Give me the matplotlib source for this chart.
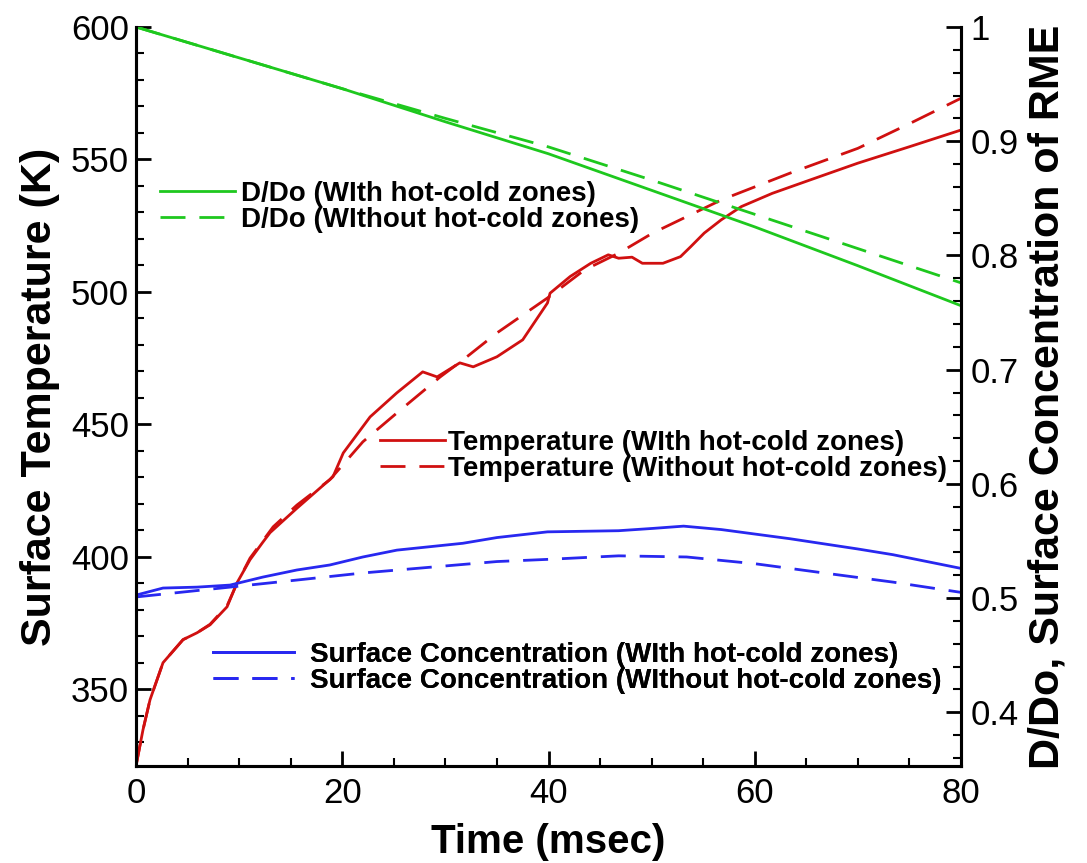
import matplotlib
matplotlib.use("Agg")
import matplotlib.pyplot as plt
from matplotlib.ticker import MultipleLocator, FuncFormatter

plt.rcParams['font.family'] = ['Liberation Sans', 'DejaVu Sans']

# temperature, with hot-cold zones (left axis, K)
t_temp_with = [0, 0.68, 1.36, 2.62, 4.56, 5.92, 7.18, 8.83, 9.8, 11.06, 12.3, 13.0,
               15.6, 19.1, 20.1, 22.7, 25.3, 27.8, 29.2, 31.4, 32.7, 35.0, 37.5,
               39.9, 40.15, 42.1, 44.1, 45.8, 46.8, 48.1, 49.1, 51.1, 52.8, 53.8,
               55.1, 56.75, 58.7, 61.7, 65.4, 70.0, 75.0, 80.0]
temp_with = [321, 334.7, 346.0, 360.0, 368.7, 371.3, 374.3, 381.1, 390.2, 398.9, 405.5, 409.1,
             418.3, 430.2, 439.2, 452.8, 461.9, 469.8, 467.9, 473.2, 471.7, 475.5, 481.9,
             495.8, 499.5, 505.8, 510.8, 514.0, 512.7, 513.1, 510.8, 510.8, 513.3, 517.1,
             522.2, 527.2, 532.2, 537.2, 542.3, 548.6, 554.8, 561.1]

# temperature, without hot-cold zones
t_temp_without = [0, 0.68, 1.36, 2.62, 4.56, 5.92, 7.18, 8.83, 9.8, 11.06, 13.3, 15.6,
                  18.8, 22.0, 25.3, 29.5, 31.7, 35.0, 39.9, 43.5, 46.8, 50.1, 53.4,
                  56.75, 63.4, 70.0, 75.0, 80.0]
temp_without = [321, 334.7, 346.0, 360.0, 368.7, 371.3, 374.5, 381.5, 390.0, 399.5, 411.3, 419.5,
                429.1, 443.4, 454.3, 467.9, 474.3, 484.5, 497.7, 508.3, 514.6, 522.2, 528.4,
                534.7, 544.8, 554.2, 563.5, 573.1]

# D/Do (right axis)
t_d = [0, 10, 20, 30, 40, 50, 60, 70, 80]
d_with = [1.0, 0.973, 0.946, 0.917, 0.889, 0.857, 0.825, 0.791, 0.756]
d_without = [1.0, 0.973, 0.946, 0.920, 0.895, 0.866, 0.836, 0.806, 0.776]

# surface concentration of RME (right axis)
t_conc_with = [0, 2.62, 5.92, 9.12, 12.3, 15.6, 18.8, 22.0, 25.3, 28.5, 31.7, 35.0,
               39.9, 46.8, 50.1, 53.1, 56.75, 63.4, 70.0, 73.4, 80.0]
conc_with = [0.5026, 0.5088, 0.5096, 0.5114, 0.5184, 0.5246, 0.529, 0.536, 0.542, 0.545,
             0.548, 0.553, 0.558, 0.559, 0.561, 0.563, 0.560, 0.552, 0.543, 0.538, 0.526]
t_conc_without = [0, 9.1, 15.6, 22.0, 28.5, 35.0, 40.15, 46.8, 53.4, 60.1, 66.7, 73.4, 80.0]
conc_without = [0.501, 0.5096, 0.5158, 0.522, 0.527, 0.532, 0.534, 0.537, 0.536, 0.530,
                0.522, 0.514, 0.505]

green = '#1ec81e'
red = '#d01010'
blue = '#2828f0'
dash = (9, 5)

W, H = 1087, 863
fig = plt.figure(figsize=(W / 100, H / 100), dpi=100)
ax = fig.add_axes([136 / W, 1 - 766 / H, (961 - 136) / W, (766 - 27) / H])
ax2 = ax.twinx()

r1, = ax.plot(t_temp_with, temp_with, color=red, lw=2)
r2, = ax.plot(t_temp_without, temp_without, color=red, lw=2, dashes=dash)
g1, = ax2.plot(t_d, d_with, color=green, lw=2)
g2, = ax2.plot(t_d, d_without, color=green, lw=2, dashes=dash)
b1, = ax2.plot(t_conc_with, conc_with, color=blue, lw=2)
b2, = ax2.plot(t_conc_without, conc_without, color=blue, lw=2, dashes=dash)

ax.set_xlim(0, 80)
ax.set_ylim(321, 600)
ax2.set_ylim(0.353, 1.0)

ax.xaxis.set_major_locator(MultipleLocator(20))
ax.xaxis.set_minor_locator(MultipleLocator(5))
ax.yaxis.set_major_locator(MultipleLocator(50))
ax.yaxis.set_minor_locator(MultipleLocator(10))
ax2.yaxis.set_major_locator(MultipleLocator(0.1))
ax2.yaxis.set_minor_locator(MultipleLocator(0.02))
ax2.yaxis.set_major_formatter(FuncFormatter(lambda v, p: f"{v:g}"))

for a in (ax, ax2):
    for s in a.spines.values():
        s.set_linewidth(2.2)
    a.spines['top'].set_visible(False)
    a.tick_params(which='major', direction='in', length=11, width=2, labelsize=25)
    a.tick_params(which='minor', direction='in', length=6, width=1.5)
ax.tick_params(axis='x', pad=8)
ax.tick_params(axis='y', pad=5)
ax2.tick_params(axis='y', pad=7)

ax.set_xlabel('Time (msec)', fontsize=29, fontweight='bold', labelpad=9)
ax.set_ylabel('Surface Temperature (K)', fontsize=31, fontweight='bold', labelpad=8)
ax2.set_ylabel('D/Do, Surface Concentration of RME', fontsize=31, fontweight='bold', labelpad=6)


def add_legend(handles, labels, x_px, y_px, hlen, hpad):
    leg = ax2.legend(handles, labels, loc='center left',
                     bbox_to_anchor=(x_px / W, 1 - y_px / H), bbox_transform=fig.transFigure,
                     frameon=False, borderpad=0, borderaxespad=0, labelspacing=0,
                     handlelength=hlen, handletextpad=hpad,
                     prop={'size': 20, 'weight': 'bold'})
    ax2.add_artist(leg)


add_legend([g1, g2], ['D/Do (WIth hot-cold zones)', 'D/Do (WIthout hot-cold zones)'],
           160, 207, 2.7, 0.2)
add_legend([r1, r2], ['Temperature (WIth hot-cold zones)', 'Temperature (Without hot-cold zones)'],
           380, 456, 2.35, 0.1)
add_legend([b1, b2], ['Surface Concentration (WIth hot-cold zones)',
                      'Surface Concentration (WIthout hot-cold zones)'],
           213, 668, 2.9, 0.6)

fig.savefig('out.png', dpi=100)
